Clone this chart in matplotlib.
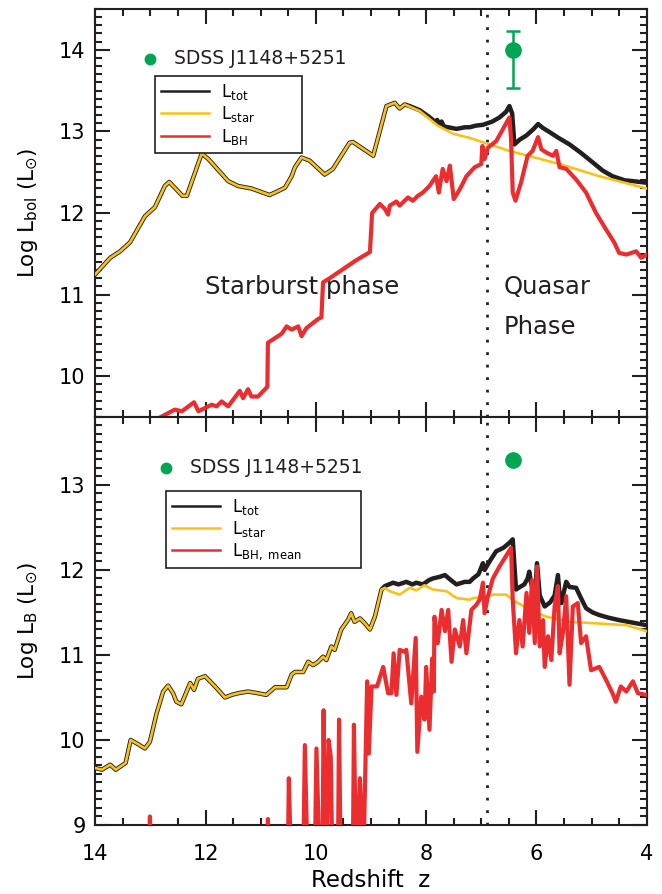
import matplotlib
matplotlib.use('Agg')
import matplotlib.pyplot as plt
from matplotlib.lines import Line2D
from matplotlib.ticker import MultipleLocator

# ---------------- data ----------------
# upper panel: bolometric luminosity
z_star_top = [14.0, 13.73, 13.55, 13.37, 13.10, 12.92, 12.74, 12.66, 12.42, 12.34,
              12.07, 11.95, 11.59, 11.41, 11.17, 10.84, 10.71, 10.56, 10.44, 10.38,
              10.26, 10.11, 9.84, 9.69, 9.39, 9.33, 9.00, 8.96, 8.72, 8.57,
              8.48, 8.39, 8.12, 7.79, 7.51, 7.21, 7.03, 6.49, 5.58, 4.86, 4.0]
l_star_top = [11.25, 11.45, 11.53, 11.64, 11.96, 12.07, 12.33, 12.38, 12.21, 12.21,
              12.73, 12.66, 12.39, 12.33, 12.30, 12.22, 12.26, 12.31, 12.45, 12.56,
              12.68, 12.64, 12.47, 12.54, 12.86, 12.87, 12.72, 12.70, 13.31, 13.35,
              13.28, 13.33, 13.25, 13.07, 12.97, 12.92, 12.88, 12.76, 12.60, 12.45, 12.30]

# L_tot only differs from L_star below z ~ 8.3
z_tot_top = [8.30, 8.12, 7.95, 7.88, 7.82, 7.80, 7.76, 7.72, 7.68, 7.60, 7.45, 7.30, 7.21, 7.10,
             6.97, 6.80, 6.67, 6.55, 6.49, 6.44, 6.40, 6.30, 6.18, 6.05, 5.97,
             5.88, 5.76, 5.60, 5.40, 5.20, 4.98, 4.80, 4.62, 4.40, 4.25, 4.0]
l_tot_top = [13.31, 13.26, 13.18, 13.14, 13.11, 13.14, 13.08, 13.12, 13.06, 13.05, 13.03, 13.05, 13.05, 13.07,
             13.08, 13.12, 13.17, 13.24, 13.31, 13.22, 12.84, 12.90, 12.95, 13.03, 13.09,
             13.04, 12.99, 12.92, 12.84, 12.74, 12.62, 12.52, 12.45, 12.40, 12.39, 12.37]

z_bh_top = [12.95, 12.56, 12.43, 12.21, 12.13, 11.89, 11.80, 11.71, 11.59, 11.38,
            11.32, 11.23, 11.17, 11.05, 10.88, 10.87, 10.62, 10.53, 10.44, 10.32,
            10.26, 10.17, 9.96, 9.90, 9.87, 9.75, 9.51, 9.27, 9.02, 8.98,
            8.84, 8.75, 8.69, 8.66, 8.54, 8.48, 8.33, 8.24, 8.15, 8.06,
            7.94, 7.82, 7.77, 7.70, 7.63, 7.57, 7.50, 7.39, 7.27, 7.12,
            7.00, 6.98, 6.94, 6.88, 6.73, 6.49, 6.46, 6.43, 6.38, 6.28,
            6.16, 6.07, 5.97, 5.91, 5.82, 5.70, 5.64, 5.58, 5.46, 5.28,
            5.10, 4.92, 4.74, 4.59, 4.50, 4.37, 4.19, 4.10, 4.0]
l_bh_top = [9.45, 9.59, 9.57, 9.68, 9.57, 9.65, 9.63, 9.69, 9.63, 9.82,
            9.73, 9.84, 9.75, 9.75, 9.87, 10.41, 10.52, 10.61, 10.57, 10.61,
            10.49, 10.59, 10.70, 10.72, 11.15, 11.20, 11.31, 11.42, 11.52, 12.00,
            12.11, 12.05, 11.98, 12.09, 12.14, 12.09, 12.19, 12.15, 12.21, 12.25,
            12.33, 12.45, 12.25, 12.54, 12.39, 12.58, 12.17, 12.29, 12.45, 12.56,
            12.60, 12.82, 12.66, 12.80, 12.88, 13.17, 12.90, 12.25, 12.15, 12.37,
            12.70, 12.76, 12.93, 12.78, 12.74, 12.70, 12.76, 12.56, 12.54, 12.41,
            12.25, 12.00, 11.80, 11.64, 11.51, 11.49, 11.53, 11.45, 11.49]

# lower panel: B-band luminosity
z_star_b = [14.0, 13.88, 13.73, 13.63, 13.45, 13.36, 13.25, 13.10, 13.01, 12.89,
            12.77, 12.68, 12.59, 12.53, 12.44, 12.28, 12.21, 12.14, 12.01, 11.92,
            11.80, 11.65, 11.53, 11.41, 11.23, 11.05, 10.90, 10.74, 10.53, 10.44,
            10.38, 10.23, 10.14, 10.05, 9.96, 9.87, 9.81, 9.72, 9.66, 9.54,
            9.42, 9.36, 9.30, 9.20, 9.11, 9.02, 8.93, 8.81, 8.75, 8.66,
            8.48, 8.30, 8.18, 8.03, 7.88, 7.63, 7.45, 7.21, 7.15, 6.94,
            6.79, 6.55, 6.43, 6.18, 5.82, 5.40, 4.86, 4.37, 4.0]
l_star_b = [9.67, 9.65, 9.71, 9.65, 9.73, 10.00, 9.96, 9.90, 9.98, 10.31,
            10.57, 10.64, 10.55, 10.45, 10.42, 10.67, 10.59, 10.72, 10.75, 10.69,
            10.61, 10.50, 10.53, 10.55, 10.57, 10.55, 10.53, 10.62, 10.62, 10.77,
            10.80, 10.80, 10.92, 10.88, 10.92, 10.98, 10.94, 11.10, 11.06, 11.30,
            11.41, 11.49, 11.39, 11.43, 11.37, 11.30, 11.45, 11.77, 11.79, 11.75,
            11.71, 11.79, 11.76, 11.82, 11.77, 11.75, 11.67, 11.65, 11.67, 11.68,
            11.71, 11.71, 11.65, 11.55, 11.45, 11.39, 11.37, 11.35, 11.28]

z_tot_b = [8.81, 8.75, 8.60, 8.50, 8.36, 8.25, 8.18, 8.06, 7.95, 7.88, 7.75, 7.66,
           7.55, 7.45, 7.30, 7.21, 7.15, 7.05, 6.97, 6.94, 6.85, 6.73, 6.60, 6.49,
           6.43, 6.37, 6.30, 6.22, 6.16, 6.13, 6.10, 6.03, 5.99, 5.94, 5.85, 5.75,
           5.67, 5.61, 5.58, 5.55, 5.46, 5.40, 5.28, 5.20, 5.10, 4.98, 4.86, 4.70,
           4.50, 4.25, 4.0]
l_tot_b = [11.77, 11.81, 11.85, 11.83, 11.86, 11.83, 11.85, 11.83, 11.88, 11.90, 11.92, 11.94,
           11.88, 11.83, 11.86, 11.86, 11.90, 11.95, 12.08, 12.00, 12.10, 12.22, 12.26, 12.32,
           12.36, 11.77, 11.80, 11.83, 11.90, 11.98, 11.86, 11.65, 12.08, 11.70, 11.57, 11.62,
           11.70, 11.94, 11.70, 11.61, 11.86, 11.80, 11.79, 11.68, 11.55, 11.50, 11.47, 11.44,
           11.41, 11.38, 11.35]

z_bh_b = [13.03, 13.01, 12.99, 10.89, 10.87, 10.85, 10.51, 10.49, 10.45, 10.23,
          10.20, 10.15, 10.02, 9.99, 9.93, 9.88, 9.86, 9.83, 9.80, 9.77,
          9.73, 9.70, 9.60, 9.58, 9.55, 9.33, 9.31, 9.27, 9.20, 9.14,
          9.07, 9.04, 8.99, 8.89, 8.78, 8.69, 8.63, 8.59, 8.54, 8.48,
          8.40, 8.36, 8.27, 8.19, 8.16, 8.09, 8.03, 8.00, 7.94, 7.89,
          7.86, 7.85, 7.79, 7.72, 7.66, 7.60, 7.54, 7.48, 7.39, 7.33,
          7.27, 7.18, 7.09, 7.03, 6.97, 6.94, 6.88, 6.79, 6.67, 6.46,
          6.43, 6.37, 6.31, 6.25, 6.18, 6.13, 6.08, 6.03, 5.99, 5.94,
          5.88, 5.85, 5.79, 5.73, 5.67, 5.61, 5.58, 5.52, 5.46, 5.40,
          5.34, 5.25, 5.19, 5.10, 5.01, 4.86, 4.74, 4.62, 4.56, 4.47,
          4.37, 4.25, 4.16, 4.0]
l_bh_b = [8.5, 9.10, 8.5, 8.5, 9.07, 8.5, 8.5, 9.55, 8.5, 8.5,
          9.94, 8.5, 8.5, 9.90, 8.5, 8.5, 10.35, 8.5, 8.8, 10.00,
          9.80, 8.5, 8.5, 10.24, 8.5, 8.5, 10.18, 8.5, 9.55, 8.5,
          10.69, 9.84, 10.63, 10.63, 10.86, 10.55, 10.55, 11.02, 10.53, 11.06,
          11.04, 11.06, 10.43, 11.20, 9.86, 10.51, 10.24, 10.86, 10.12, 10.96,
          10.57, 11.45, 11.14, 11.53, 11.28, 11.53, 10.92, 11.30, 11.10, 11.41,
          11.02, 11.53, 11.59, 11.65, 11.85, 11.49, 11.69, 11.90, 12.04, 12.26,
          11.65, 11.02, 11.41, 11.10, 11.73, 11.26, 11.88, 11.14, 12.04, 11.10,
          11.41, 10.86, 11.22, 10.94, 11.57, 11.81, 11.02, 11.26, 11.69, 10.65,
          11.57, 11.61, 11.14, 11.22, 10.82, 10.86, 10.71, 10.55, 10.45, 10.63,
          10.57, 10.69, 10.55, 10.53]

# SDSS J1148+5251
z_qso = 6.42
lbol_qso = 14.0
lbol_err = [[0.47], [0.23]]
lb_qso = 13.29
z_transition = 6.9

C_TOT = '#231f20'
C_STAR = '#f9c21b'
C_BH = '#ec2d2f'
C_QSO = '#00a651'

plt.rcParams['font.family'] = ['DejaVu Sans']
plt.rcParams['mathtext.fontset'] = 'dejavusans'

fig = plt.figure(figsize=(6.62, 8.94), dpi=100)
ax1 = fig.add_axes([0.1440, 0.5336, 0.8329, 0.4564])
ax2 = fig.add_axes([0.1440, 0.0772, 0.8329, 0.4564])


def style_axis(ax, ylim):
    ax.set_xlim(14, 4)
    ax.set_ylim(*ylim)
    ax.xaxis.set_major_locator(MultipleLocator(2))
    ax.xaxis.set_minor_locator(MultipleLocator(0.5))
    ax.yaxis.set_major_locator(MultipleLocator(1))
    ax.yaxis.set_minor_locator(MultipleLocator(0.1))
    ax.tick_params(which='both', direction='in', top=True, right=True, width=1.5,
                   labelsize=15, color=C_TOT)
    ax.tick_params(which='major', length=11)
    ax.tick_params(which='minor', length=5)
    ax.tick_params(axis='x', pad=14)
    ax.tick_params(axis='y', pad=7)
    for s in ax.spines.values():
        s.set_linewidth(1.5)
        s.set_color(C_TOT)
    ax.axvline(z_transition, color=C_TOT, ls=(0, (1, 3.5)), lw=2)


def make_legend(ax, handles, labels, x0, y0, width):
    h = 0.18
    leg = ax.legend(handles, labels, loc='upper left', mode='expand',
                    bbox_to_anchor=(x0, y0 - h, width, h), borderaxespad=0,
                    fontsize=12, handlelength=2.9, handletextpad=0.7, labelspacing=0.15,
                    borderpad=0.35, fancybox=False, edgecolor=C_TOT, framealpha=1)
    leg.get_frame().set_linewidth(1.2)
    return leg


# ---------- upper panel ----------
style_axis(ax1, (9.5, 14.5))
ax1.plot(z_star_top[:32] + z_tot_top, l_star_top[:32] + l_tot_top, color=C_TOT, lw=3.2, zorder=2)
ax1.plot(z_star_top, l_star_top, color=C_STAR, lw=1.9, zorder=3)
ax1.plot(z_bh_top, l_bh_top, color=C_BH, lw=3.0, zorder=4)
ax1.errorbar([z_qso], [lbol_qso], yerr=lbol_err, fmt='o', color=C_QSO, ms=11,
             elinewidth=1.8, capsize=5, capthick=1.8, zorder=5)
ax1.tick_params(axis='x', labelbottom=False)
ax1.set_ylabel(r'Log L$_{\rm bol}$ (L$_{\odot}$)', fontsize=15.5)
ax1.yaxis.set_label_coords(-0.10, 0.5)

ax1.plot([13.01], [13.89], 'o', color=C_QSO, ms=7.5)
ax1.text(12.57, 13.89, 'SDSS J1148+5251', fontsize=13.5, va='center', color=C_TOT)
ax1.text(12.01, 11.09, 'Starburst phase', fontsize=17.5, va='center', color=C_TOT)
ax1.text(6.60, 11.09, 'Quasar', fontsize=17.5, va='center', color=C_TOT)
ax1.text(6.60, 10.60, 'Phase', fontsize=17.5, va='center', color=C_TOT)

h1 = [Line2D([], [], color=C_TOT, lw=1.8),
      Line2D([], [], color=C_STAR, lw=1.8),
      Line2D([], [], color=C_BH, lw=1.8)]
make_legend(ax1, h1, [r'L$_{\rm tot}$', r'L$_{\rm star}$', r'L$_{\rm BH}$'], 0.108, 0.836, 0.2666)

# ---------- lower panel ----------
style_axis(ax2, (9.0, 13.8))
ax2.plot(z_star_b[:48] + z_tot_b, l_star_b[:48] + l_tot_b, color=C_TOT, lw=3.2, zorder=2)
ax2.plot(z_star_b, l_star_b, color=C_STAR, lw=1.9, zorder=3)
ax2.plot(z_bh_b, l_bh_b, color=C_BH, lw=3.0, zorder=4)
ax2.plot([z_qso], [lb_qso], 'o', color=C_QSO, ms=11, zorder=5)
ax2.set_xlabel('Redshift  z', fontsize=16.5, labelpad=3)
ax2.set_ylabel(r'Log L$_{\rm B}$ (L$_{\odot}$)', fontsize=15.5)
ax2.yaxis.set_label_coords(-0.10, 0.5)

ax2.plot([12.72], [13.20], 'o', color=C_QSO, ms=7.5)
ax2.text(12.28, 13.20, 'SDSS J1148+5251', fontsize=13.5, va='center', color=C_TOT)

h2 = [Line2D([], [], color=C_TOT, lw=1.8),
      Line2D([], [], color=C_STAR, lw=1.8),
      Line2D([], [], color=C_BH, lw=1.8)]
make_legend(ax2, h2, [r'L$_{\rm tot}$', r'L$_{\rm star}$', r'L$_{\rm BH,\ mean}$'], 0.128, 0.819, 0.3537)

fig.savefig('out.png', dpi=100)
plt.close(fig)
